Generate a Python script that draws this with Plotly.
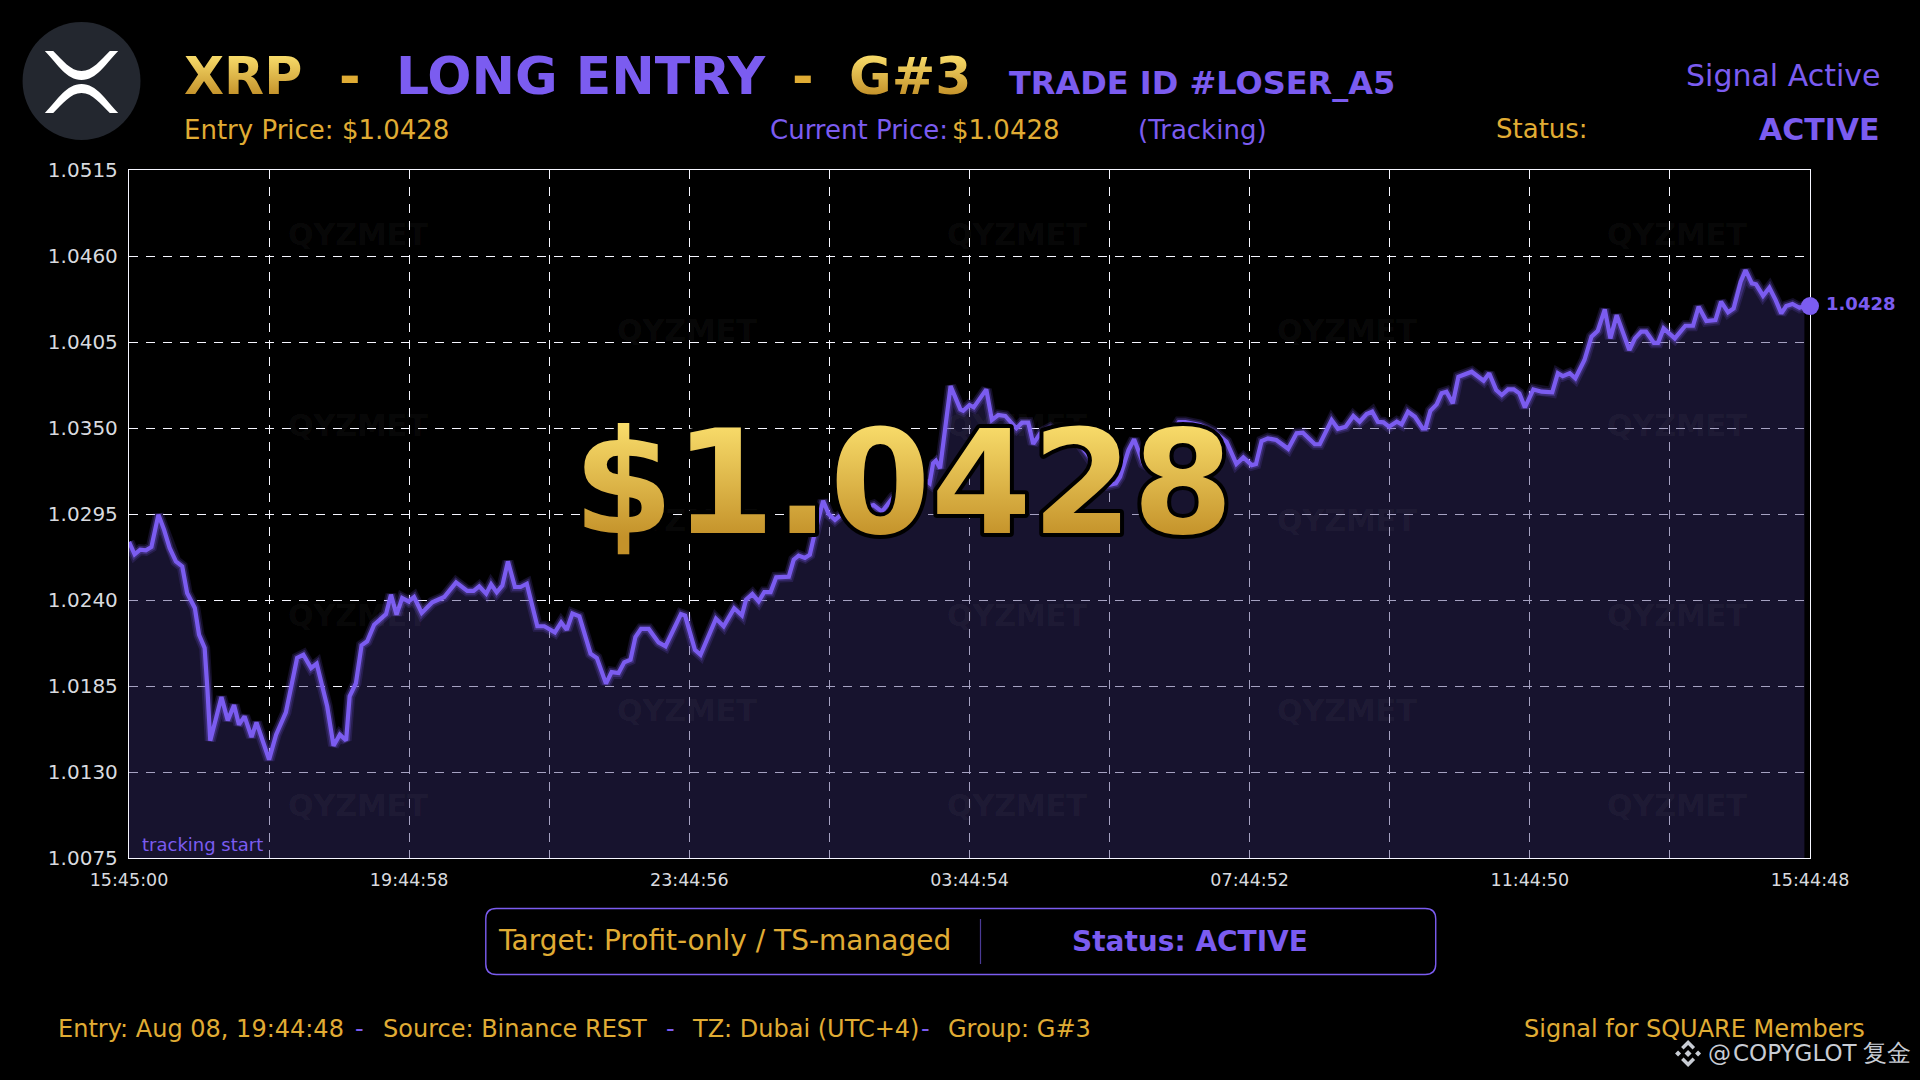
import plotly.graph_objects as go

# hours since tracking start, price
hours = [0.00, 0.08, 0.16, 0.24, 0.32, 0.42, 0.50, 0.58, 0.67, 0.76, 0.83, 0.94, 1.00, 1.08, 1.12, 1.16,
         1.32, 1.41, 1.50, 1.57, 1.65, 1.75, 1.82, 2.00, 2.10, 2.24, 2.40, 2.49, 2.60, 2.68, 2.83, 2.92,
         3.01, 3.10, 3.15, 3.24, 3.32, 3.40, 3.50, 3.67, 3.74, 3.82, 3.90, 3.99, 4.07, 4.18, 4.33, 4.50,
         4.67, 4.83, 4.92, 5.00, 5.10, 5.17, 5.25, 5.33, 5.41, 5.51, 5.59, 5.68, 5.83, 5.93, 6.08, 6.17,
         6.25, 6.33, 6.43, 6.59, 6.68, 6.81, 6.89, 6.99, 7.07, 7.16, 7.23, 7.31, 7.42, 7.56, 7.66, 7.88,
         7.94, 8.08, 8.16, 8.38, 8.49, 8.64, 8.75, 8.81, 8.90, 8.99, 9.07, 9.16, 9.24, 9.42, 9.49, 9.56,
         9.65, 9.72, 9.78, 9.91, 9.99, 10.08, 10.18, 10.37, 10.63, 10.75, 10.91, 11.08, 11.27, 11.43, 11.48, 11.52,
         11.58, 11.73, 11.87, 11.91, 12.00, 12.06, 12.24, 12.32, 12.41, 12.51, 12.60, 12.67, 12.75, 12.84, 12.91, 13.01,
         13.15, 13.29, 13.46, 13.60, 13.73, 13.86, 13.98, 14.09, 14.15, 14.27, 14.35, 14.48, 14.65, 14.79, 14.99, 15.08,
         15.29, 15.50, 15.67, 15.81, 15.91, 16.03, 16.09, 16.17, 16.26, 16.38, 16.55, 16.67, 16.76, 16.93, 17.00, 17.17,
         17.26, 17.37, 17.48, 17.57, 17.67, 17.75, 17.83, 17.91, 17.99, 18.10, 18.17, 18.26, 18.36, 18.47, 18.51, 18.58,
         18.67, 18.74, 18.81, 18.85, 18.90, 18.98, 19.17, 19.34, 19.42, 19.52, 19.60, 19.69, 19.77, 19.85, 19.93, 20.05,
         20.17, 20.32, 20.40, 20.47, 20.57, 20.65, 20.78, 20.88, 20.97, 21.07, 21.15, 21.24, 21.42, 21.50, 21.59, 21.66,
         21.77, 21.83, 21.91, 22.07, 22.22, 22.33, 22.41, 22.52, 22.65, 22.73, 22.83, 22.91, 23.01, 23.08, 23.17, 23.23,
         23.33, 23.42, 23.51, 23.59, 23.66, 23.75, 23.85, 23.92]
price = [1.02771, 1.02692, 1.02722, 1.02718, 1.02739, 1.02946, 1.02850, 1.02733, 1.02647, 1.02615, 1.02445, 1.02349, 1.02178, 1.02093, 1.01826, 1.01500,
         1.01780, 1.01630, 1.01728, 1.01603, 1.01656, 1.01524, 1.01617, 1.01379, 1.01539, 1.01681, 1.02029, 1.02050, 1.01965, 1.01993, 1.01720, 1.01468,
         1.01539, 1.01502, 1.01784, 1.01869, 1.02110, 1.02136, 1.02242, 1.02310, 1.02434, 1.02306, 1.02413, 1.02391, 1.02419, 1.02317, 1.02385, 1.02419,
         1.02513, 1.02458, 1.02458, 1.02487, 1.02440, 1.02500, 1.02449, 1.02492, 1.02647, 1.02483, 1.02483, 1.02504, 1.02232, 1.02232, 1.02193, 1.02257,
         1.02210, 1.02313, 1.02295, 1.02057, 1.02029, 1.01865, 1.01939, 1.01933, 1.02001, 1.02018, 1.02163, 1.02215, 1.02215, 1.02129, 1.02104, 1.02310,
         1.02300, 1.02082, 1.02050, 1.02281, 1.02232, 1.02347, 1.02302, 1.02402, 1.02438, 1.02391, 1.02451, 1.02451, 1.02545, 1.02549, 1.02658, 1.02684,
         1.02669, 1.02690, 1.02807, 1.03035, 1.02950, 1.02912, 1.02950, 1.02975, 1.03007, 1.02965, 1.03057, 1.03103, 1.03199, 1.03146, 1.03274, 1.03291,
         1.03242, 1.03768, 1.03619, 1.03610, 1.03647, 1.03632, 1.03747, 1.03551, 1.03583, 1.03577, 1.03530, 1.03498, 1.03534, 1.03534, 1.03398, 1.03466,
         1.03500, 1.03449, 1.03474, 1.03380, 1.03306, 1.03231, 1.03135, 1.03146, 1.03188, 1.03359, 1.03428, 1.03274, 1.03231, 1.03391, 1.03538, 1.03538,
         1.03519, 1.03474, 1.03412, 1.03270, 1.03312, 1.03263, 1.03270, 1.03417, 1.03434, 1.03423, 1.03367, 1.03466, 1.03470, 1.03396, 1.03396, 1.03551,
         1.03495, 1.03508, 1.03577, 1.03540, 1.03589, 1.03604, 1.03540, 1.03536, 1.03508, 1.03540, 1.03523, 1.03604, 1.03572, 1.03498, 1.03498, 1.03610,
         1.03651, 1.03722, 1.03732, 1.03700, 1.03658, 1.03828, 1.03860, 1.03802, 1.03850, 1.03743, 1.03711, 1.03747, 1.03747, 1.03722, 1.03632, 1.03747,
         1.03732, 1.03728, 1.03850, 1.03832, 1.03850, 1.03818, 1.03935, 1.04084, 1.04122, 1.04259, 1.04073, 1.04222, 1.03999, 1.04073, 1.04116, 1.04116,
         1.04045, 1.04045, 1.04137, 1.04073, 1.04154, 1.04154, 1.04276, 1.04184, 1.04190, 1.04308, 1.04240, 1.04265, 1.04435, 1.04510, 1.04425, 1.04419,
         1.04346, 1.04397, 1.04318, 1.04233, 1.04280, 1.04293, 1.04269, 1.04280]
last_hour = [24.0]
last_price = [1.0428]

y_ticks = [1.0075, 1.0130, 1.0185, 1.0240, 1.0295, 1.0350, 1.0405, 1.0460, 1.0515]
x_ticks = [0, 2, 4, 6, 8, 10, 12, 14, 16, 18, 20, 22, 24]
x_labels = ['15:45:00', '', '19:44:58', '', '23:44:56', '', '03:44:54', '', '07:44:52', '', '11:44:50', '', '15:44:48']

PURPLE = '#7B5CF0'
GOLD = '#E0AC34'
FONT = 'DejaVu Sans'

# plot area in page pixels
L, R, T, B = 128.5, 1810.5, 170, 858


def X(px):
    return (px - L) / (R - L)


def Y(py):
    return (B - py) / (B - T)


def poly(points):
    return 'M ' + ' L '.join(f'{X(a):.5f} {Y(b):.5f}' for a, b in points) + ' Z'


def path(cmds):
    # cmds: (letter, x1, y1, x2, y2, ...) in page pixels
    out = []
    for c in cmds:
        nums = []
        for i, v in enumerate(c[1:]):
            nums.append(f'{X(v) if i % 2 == 0 else Y(v):.5f}')
        out.append(c[0] + ' ' + ' '.join(nums))
    return ' '.join(out) + ' Z'


annotations = []


def label(text, px, py, size, color=GOLD, bold=False, anchor='left'):
    annotations.append(dict(
        text=f'<b>{text}</b>' if bold else text,
        xref='paper', yref='paper', x=X(px), y=Y(py),
        xanchor=anchor, yanchor='middle', showarrow=False,
        font=dict(family=FONT, size=size, color=color),
        borderpad=0, borderwidth=0,
    ))


# watermark
for wx in [357.5, 1017.5, 1677.5]:
    for wy in [235, 425, 615, 805]:
        label('QYZMET', wx, wy, 30, 'rgba(255,255,255,0.05)', True, 'center')
for wx in [687, 1347]:
    for wy in [330.5, 520, 710]:
        label('QYZMET', wx, wy, 30, 'rgba(255,255,255,0.05)', True, 'center')

# header
label('XRP', 184, 76, 52, '#E8BC48', True)
label('-', 339, 76, 52, '#E0AC34', True)
label('LONG ENTRY', 396, 76, 52, PURPLE, True)
label('-', 792, 76, 52, '#E0AC34', True)
label('G#3', 849, 76, 52, '#E8BC48', True)
label('TRADE ID #LOSER_A5', 1009, 83, 32, PURPLE, True)
label('Signal Active', 1882, 75, 30, PURPLE, False, 'right')
label('Entry Price: $1.0428', 184, 130, 26)
label('Current Price:', 770, 130, 26, PURPLE)
label('$1.0428', 952, 130, 26)
label('(Tracking)', 1138, 130, 26, PURPLE)
label('Status:', 1496, 129, 26)
label('ACTIVE', 1881, 130, 30, PURPLE, True, 'right')

# chart texts
label('tracking start', 142, 844, 18, PURPLE)
label('1.0428', 1827, 303, 18, PURPLE, True)

# bottom box and footer
label('Target: Profit-only / TS-managed', 498, 940, 28)
label('Status: ACTIVE', 1190, 941, 28, PURPLE, True, 'center')
label('Entry: Aug 08, 19:44:48', 57.5, 1029, 24)
label('-', 355, 1029, 24, PURPLE)
label('Source: Binance REST', 383, 1029, 24)
label('-', 666, 1029, 24, PURPLE)
label('TZ: Dubai (UTC+4)', 692, 1029, 24)
label('-', 921, 1029, 24, PURPLE)
label('Group: G#3', 948, 1029, 24)
label('Signal for SQUARE Members', 1524, 1029, 24)
label('@', 1708, 1053, 23, '#C8CCD4')
label('COPYGLOT', 1733, 1053, 23, '#C8CCD4')
label('复金', 1864, 1053, 24, '#C8CCD4')

# big price on top
label('$1.0428', 903, 482, 145, '#E0AC34', True, 'center')

shapes = [
    # logo
    dict(type='circle', xref='paper', yref='paper', x0=X(22), x1=X(140), y0=Y(22), y1=Y(140),
         fillcolor='#23272F', line_width=0),
    dict(type='path', xref='paper', yref='paper', fillcolor='white', line_width=0,
         path=path([('M', 44.3, 51), ('L', 52.7, 51), ('C', 62, 60, 70, 71, 81, 71), ('C', 92, 71, 100, 60, 109.3, 51),
                    ('L', 117.7, 51), ('C', 105, 64, 96, 80, 81, 80), ('C', 66, 80, 57, 64, 44.3, 51)])),
    dict(type='path', xref='paper', yref='paper', fillcolor='white', line_width=0,
         path=path([('M', 44.3, 113), ('L', 52.7, 113), ('C', 62, 104, 70, 93, 81, 93), ('C', 92, 93, 100, 104, 109.3, 113),
                    ('L', 117.7, 113), ('C', 105, 100, 96, 84, 81, 84), ('C', 66, 84, 57, 100, 44.3, 113)])),
    # status box
    dict(type='path', xref='paper', yref='paper', line=dict(color=PURPLE, width=1.4),
         path=path([('M', 496, 908.5), ('L', 1425.5, 908.5), ('Q', 1436, 908.5, 1436, 919), ('L', 1436, 964),
                    ('Q', 1436, 974.5, 1425.5, 974.5), ('L', 496, 974.5), ('Q', 485.5, 974.5, 485.5, 964),
                    ('L', 485.5, 919), ('Q', 485.5, 908.5, 496, 908.5)])),
    dict(type='line', xref='paper', yref='paper', x0=X(980.5), x1=X(980.5), y0=Y(919), y1=Y(964),
         line=dict(color='#4B3A96', width=1.2)),
]

# exchange icon next to the copy tag
cx, cy = 1688.5, 1053.5
icon = [
    [(cx, cy - 3.5), (cx + 3.5, cy), (cx, cy + 3.5), (cx - 3.5, cy)],
    [(cx - 10, cy - 3), (cx - 7, cy), (cx - 10, cy + 3), (cx - 13, cy)],
    [(cx + 10, cy - 3), (cx + 13, cy), (cx + 10, cy + 3), (cx + 7, cy)],
    [(cx, cy - 13.5), (cx + 7, cy - 6.5), (cx + 4.5, cy - 4), (cx, cy - 8.5), (cx - 4.5, cy - 4), (cx - 7, cy - 6.5)],
    [(cx, cy + 13.5), (cx + 7, cy + 6.5), (cx + 4.5, cy + 4), (cx, cy + 8.5), (cx - 4.5, cy + 4), (cx - 7, cy + 6.5)],
]
for pts in icon:
    shapes.append(dict(type='path', xref='paper', yref='paper', fillcolor='#C8CCD4', line_width=0, path=poly(pts)))

fig = go.Figure()

fig.add_trace(go.Scatter(x=hours, y=price, mode='none', fill='tozeroy',
                         fillcolor='rgba(55,45,110,0.42)', hoverinfo='skip', showlegend=False))
# glow under the line
fig.add_trace(go.Scatter(x=hours, y=price, mode='lines', line=dict(color='rgba(123,92,240,0.16)', width=11),
                         hoverinfo='skip', showlegend=False))
fig.add_trace(go.Scatter(x=hours, y=price, mode='lines', line=dict(color='rgba(123,92,240,0.28)', width=7.5),
                         hoverinfo='skip', showlegend=False))
fig.add_trace(go.Scatter(x=hours, y=price, mode='lines', line=dict(color=PURPLE, width=4.2),
                         showlegend=False))
fig.add_trace(go.Scatter(x=last_hour, y=last_price, mode='markers', marker=dict(color=PURPLE, size=18),
                         cliponaxis=False, showlegend=False))

fig.update_xaxes(range=[0, 24], tickvals=x_ticks, ticktext=x_labels,
                 showgrid=True, gridcolor='#F6F6FF', griddash='9px,8px', gridwidth=1.3,
                 showline=True, linecolor='#F6F6FF', linewidth=1.3, mirror=True, layer='below traces',
                 zeroline=False, ticks='', ticklabelstandoff=6,
                 tickfont=dict(family=FONT, size=17.5, color='#D8DADF'))
fig.update_yaxes(range=[1.0075, 1.0515], tickvals=y_ticks, tickformat='.4f',
                 showgrid=True, gridcolor='#F6F6FF', griddash='9px,8px', gridwidth=1.3,
                 showline=True, linecolor='#F6F6FF', linewidth=1.3, mirror=True, layer='below traces',
                 zeroline=False, ticks='', ticklabelstandoff=6,
                 tickfont=dict(family=FONT, size=20, color='#D8DADF'))

fig.update_layout(
    width=1920, height=1080,
    margin=dict(l=L, r=1920 - R, t=T, b=1080 - B, pad=0),
    paper_bgcolor='#000000', plot_bgcolor='#000000',
    font=dict(family=FONT),
    showlegend=False,
    annotations=annotations,
    shapes=shapes,
)

# gold gradient and outline on the svg text, page margin off
post = """
document.body.style.margin = '0';
document.body.style.overflow = 'hidden';
var gd = document.getElementById('{plot_id}');
var svg = gd.querySelector('svg.main-svg');
var ns = 'http://www.w3.org/2000/svg';
var grad = document.createElementNS(ns, 'linearGradient');
grad.setAttribute('id', 'goldfill');
grad.setAttribute('x1', '0'); grad.setAttribute('x2', '0');
grad.setAttribute('y1', '0'); grad.setAttribute('y2', '1');
[['0.12', '#FBE06E'], ['0.82', '#C4922A']].forEach(function (s) {
    var st = document.createElementNS(ns, 'stop');
    st.setAttribute('offset', s[0]);
    st.setAttribute('stop-color', s[1]);
    grad.appendChild(st);
});
svg.appendChild(grad);
gd.querySelectorAll('.annotation-text').forEach(function (t) {
    var s = t.textContent;
    var big = s === '$1.0428' && t.style.fontSize.indexOf('145') === 0;
    if (s === 'XRP' || s === 'G#3' || big) {
        t.style.setProperty('fill', 'url(#goldfill)', 'important');
    }
    if (big) {
        t.style.setProperty('stroke', '#000');
        t.style.setProperty('stroke-width', '8px');
        t.style.setProperty('stroke-linejoin', 'round');
        t.style.setProperty('paint-order', 'stroke fill');
    }
});
"""

fig.write_html("out.html", post_script=post, config=dict(displayModeBar=False))
